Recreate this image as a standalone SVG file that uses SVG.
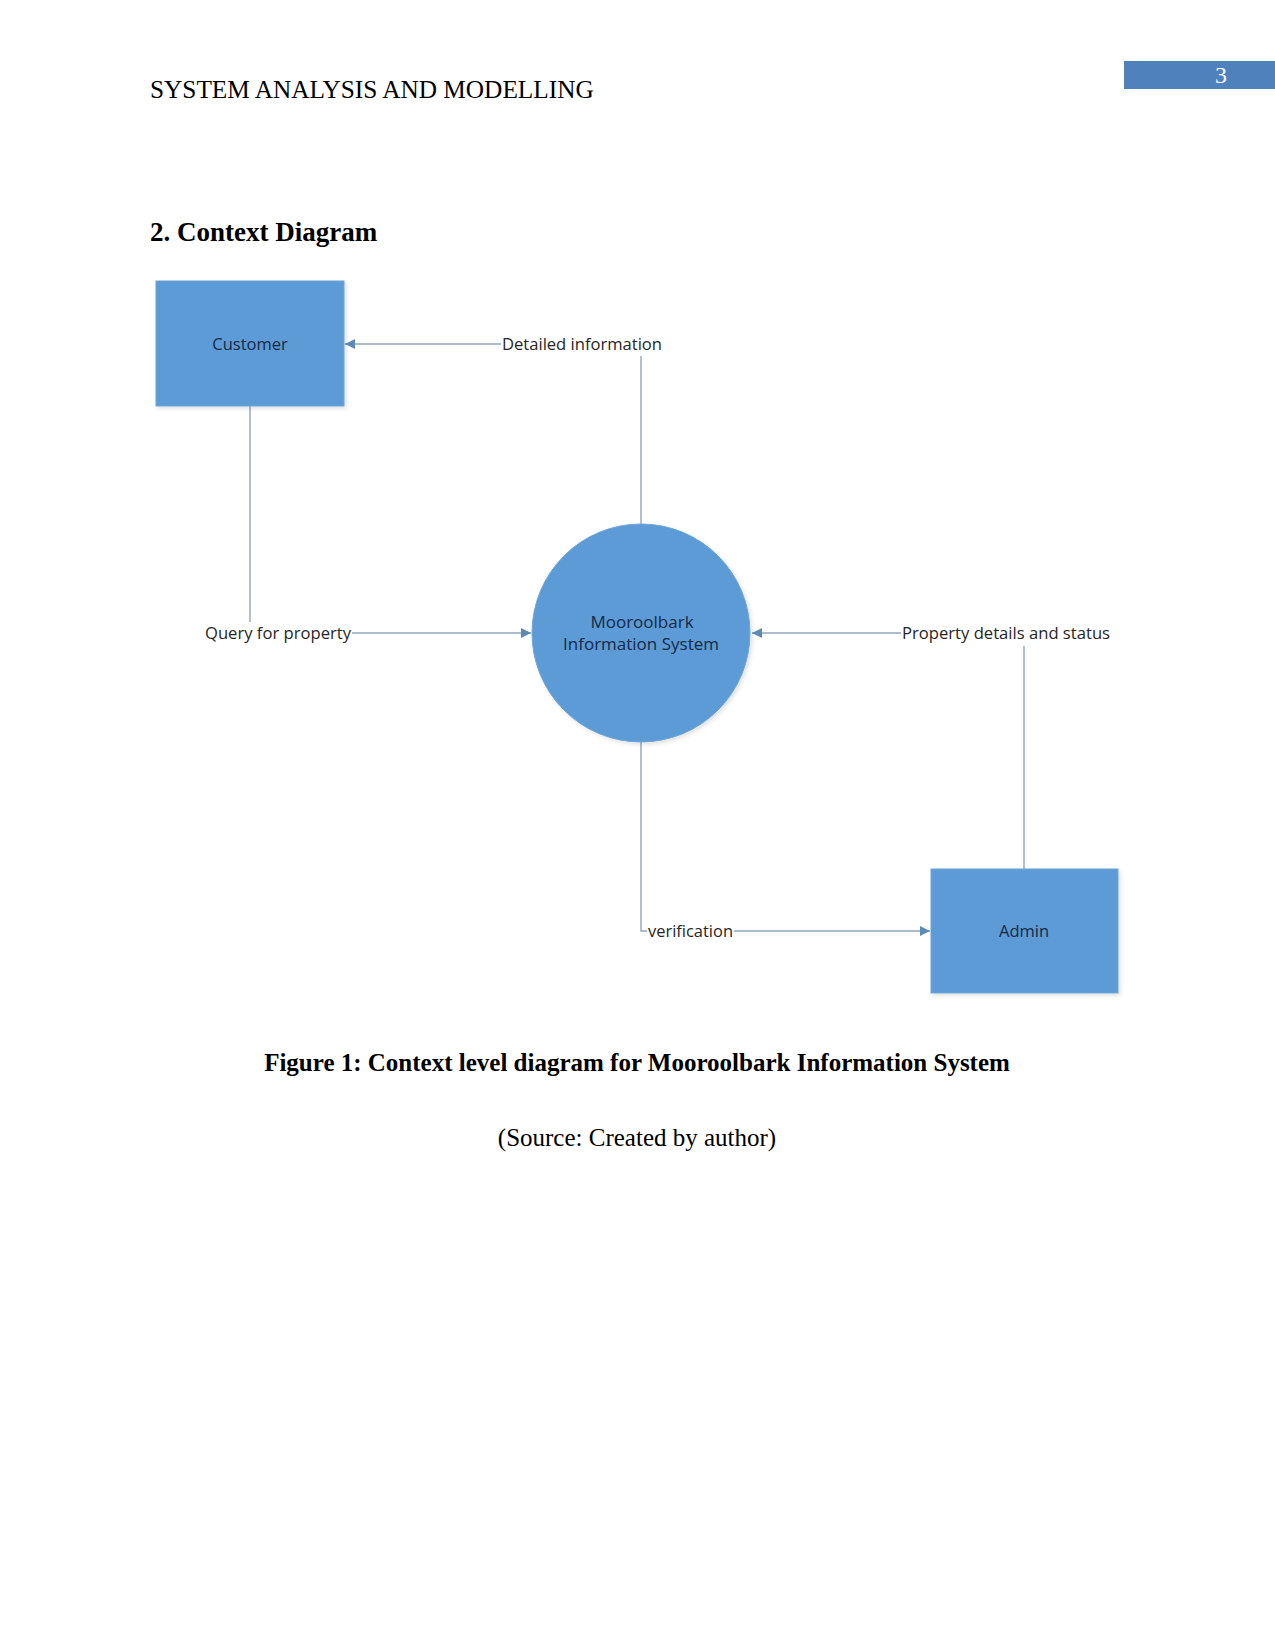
<svg xmlns="http://www.w3.org/2000/svg" width="1275" height="1650" viewBox="0 0 1275 1650">
<style>
.page{font-family:"Liberation Serif","Times New Roman",serif;fill:#000}
.node{fill:#5B9BD5;stroke:#6FA6D8;stroke-width:1}
.nlabel{font-family:"Open Sans","Noto Sans",sans-serif;font-size:16.5px;fill:#142A47;text-anchor:middle}
.elabel{font-family:"Open Sans","Noto Sans",sans-serif;font-size:16px;fill:#262626}
.conn{fill:none;stroke:#8FA6BC;stroke-width:1.4}
</style>
<defs>
<marker id="arr" viewBox="0 0 10 10" refX="10" refY="5" markerWidth="10" markerHeight="10" markerUnits="userSpaceOnUse" orient="auto">
<path d="M0,0 L10,5 L0,10 Z" fill="#5D8AB4"/>
</marker>
<filter id="sh" x="-10%" y="-10%" width="125%" height="125%">
<feDropShadow dx="2" dy="2" stdDeviation="2" flood-color="#000" flood-opacity="0.12"/>
</filter>
</defs>
<rect width="1275" height="1650" fill="#fff"/>
<g id="header">
<text class="page" x="150" y="98" font-size="25.3">SYSTEM ANALYSIS AND MODELLING</text>
<rect x="1124" y="61" width="151" height="28" fill="#4F81BD"/>
<text class="page" x="1221" y="83" font-size="24" style="fill:#fff" text-anchor="middle">3</text>
<text class="page" x="150" y="241" font-size="27" font-weight="bold">2. Context Diagram</text>
</g>
<g id="connectors">
<line class="conn" x1="641" y1="524" x2="641" y2="356"/>
<line class="conn" x1="501" y1="344" x2="345" y2="344" marker-end="url(#arr)"/>
<line class="conn" x1="250" y1="406" x2="250" y2="622"/>
<line class="conn" x1="352" y1="633" x2="531" y2="633" marker-end="url(#arr)"/>
<line class="conn" x1="1024" y1="869" x2="1024" y2="646"/>
<line class="conn" x1="901" y1="633" x2="752" y2="633" marker-end="url(#arr)"/>
<polyline class="conn" points="641,742 641,931 647,931"/>
<line class="conn" x1="734" y1="931" x2="930" y2="931" marker-end="url(#arr)"/>
</g>
<g id="customer">
<rect class="node" x="156" y="281" width="188" height="125" filter="url(#sh)"/>
<text class="nlabel" x="250" y="350">Customer</text>
</g>
<g id="system">
<circle class="node" cx="641" cy="633" r="109" filter="url(#sh)"/>
<text class="nlabel" x="642" y="628" style="font-size:17px">Mooroolbark</text>
<text class="nlabel" x="641" y="650" style="font-size:17px">Information System</text>
</g>
<g id="admin">
<rect class="node" x="931" y="869" width="187" height="124" filter="url(#sh)"/>
<text class="nlabel" x="1024" y="937">Admin</text>
</g>
<g id="labels">
<text class="elabel" x="502" y="350" textLength="160" lengthAdjust="spacingAndGlyphs">Detailed information</text>
<text class="elabel" x="205" y="639" textLength="146" lengthAdjust="spacingAndGlyphs">Query for property</text>
<text class="elabel" x="902" y="639" textLength="208" lengthAdjust="spacingAndGlyphs">Property details and status</text>
<text class="elabel" x="648" y="937" textLength="85" lengthAdjust="spacingAndGlyphs">verification</text>
</g>
<g id="caption">
<text class="page" x="637" y="1071" font-size="25" font-weight="bold" text-anchor="middle">Figure 1: Context level diagram for Mooroolbark Information System</text>
<text class="page" x="637" y="1146" font-size="25" text-anchor="middle">(Source: Created by author)</text>
</g>
</svg>
